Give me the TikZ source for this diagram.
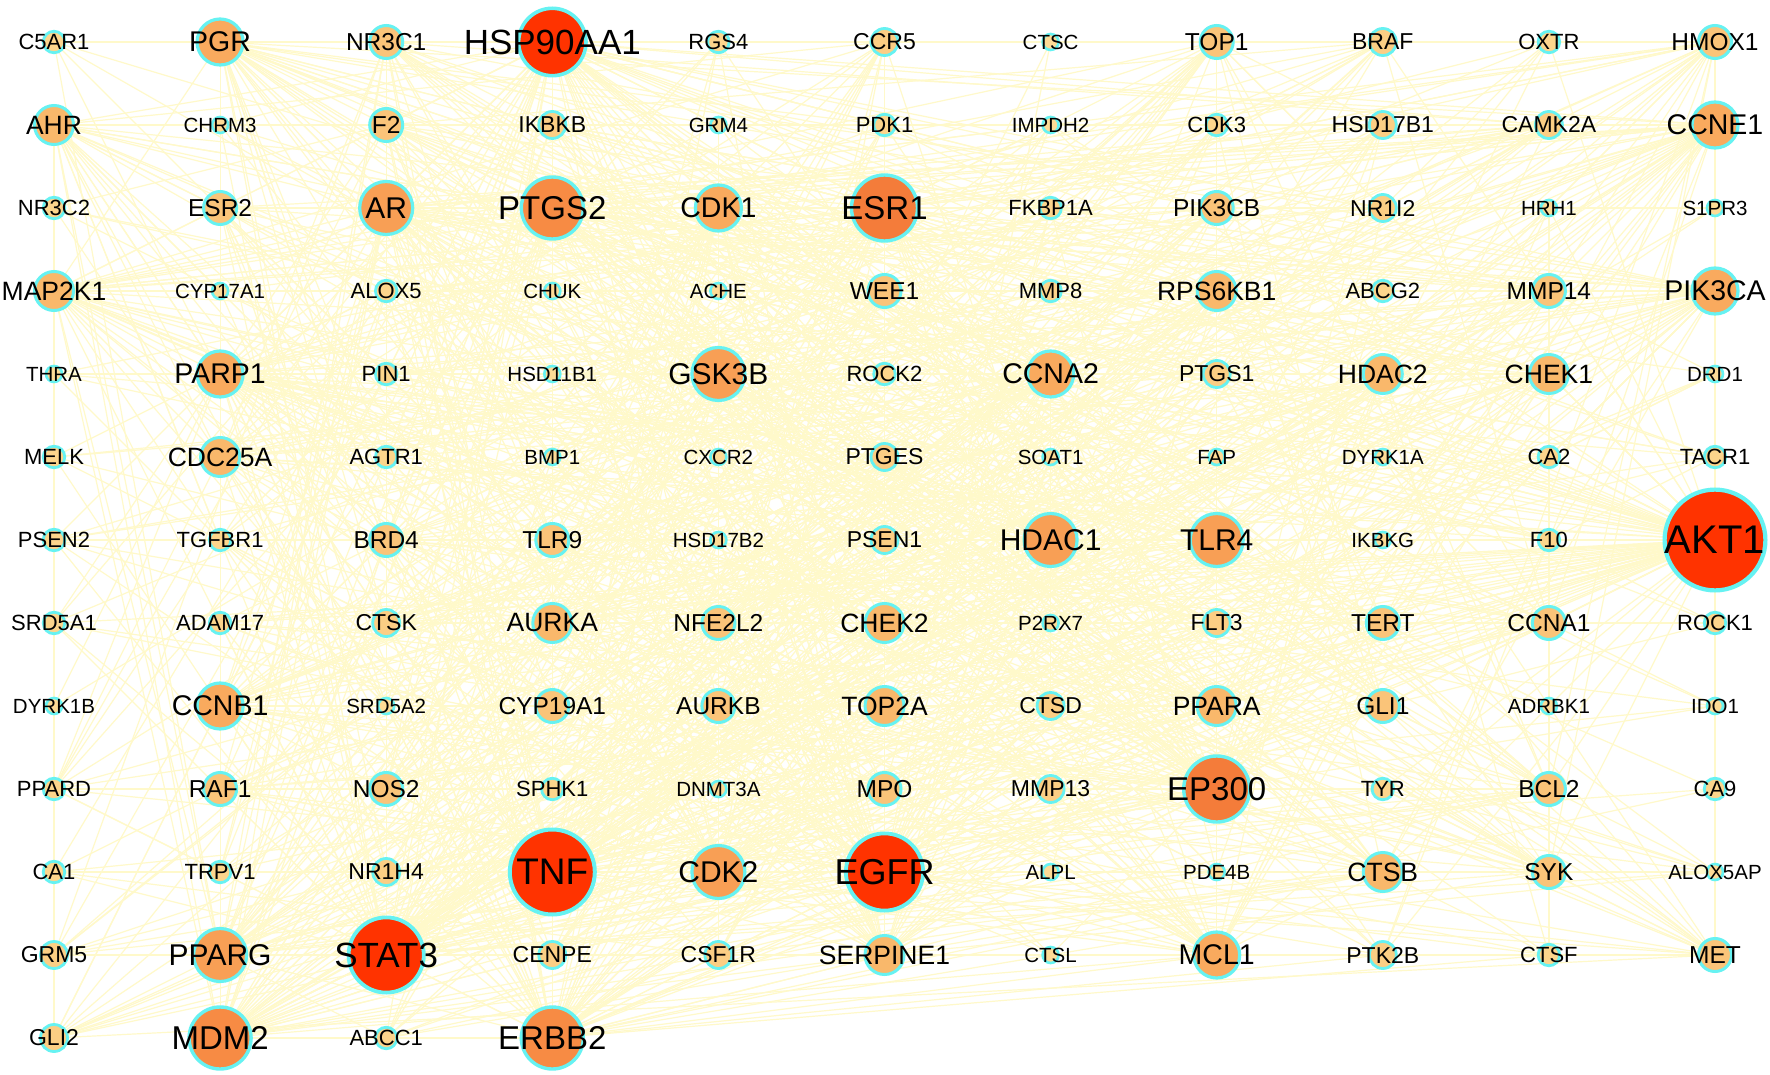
\documentclass[tikz,border=0pt]{standalone}
\usepackage{fontspec}
\setmainfont{Liberation Sans}
\pgfdeclarelayer{paper}
\pgfdeclarelayer{bg}
\pgfsetlayers{paper,bg,main}
\definecolor{ring}{HTML}{66F2F2}
\definecolor{edgec}{HTML}{FFF9CA}
\definecolor{f1}{HTML}{FDDB96}
\definecolor{f2}{HTML}{FCD58C}
\definecolor{f3}{HTML}{FBCE84}
\definecolor{f4}{HTML}{FAC479}
\definecolor{f5}{HTML}{F9B86B}
\definecolor{f6}{HTML}{F9AA5E}
\definecolor{f7}{HTML}{F89F55}
\definecolor{f8}{HTML}{F78B44}
\definecolor{f9}{HTML}{F47C3A}
\definecolor{fr}{HTML}{FF3300}
\newcount\gcnt
\expandafter\def\csname kdeg1\endcsname{3}
\expandafter\def\csname kdeg2\endcsname{6}
\expandafter\def\csname kdeg3\endcsname{10}
\expandafter\def\csname kdeg4\endcsname{16}
\expandafter\def\csname kdeg5\endcsname{22}
\expandafter\def\csname kdeg6\endcsname{30}
\expandafter\def\csname kdeg7\endcsname{38}
\expandafter\def\csname kdeg8\endcsname{52}
\expandafter\def\csname kdeg9\endcsname{58}
\expandafter\def\csname kdeg10\endcsname{75}
\expandafter\def\csname kdeg11\endcsname{80}
\expandafter\def\csname kdeg12\endcsname{85}
\expandafter\def\csname kdeg13\endcsname{90}
\expandafter\def\csname kdeg14\endcsname{110}
\tikzset{
 gnode/.style={circle, draw=ring, inner sep=0pt, outer sep=0pt},
 glab/.style={inner sep=0pt, outer sep=0pt, text=black},
 k1/.style={gnode, line width=2.6pt, minimum size=16pt, fill=f1},
 k2/.style={gnode, line width=2.8pt, minimum size=21.5pt, fill=f2},
 k3/.style={gnode, line width=2.8pt, minimum size=27pt, fill=f3},
 k4/.style={gnode, line width=3pt, minimum size=33pt, fill=f4},
 k5/.style={gnode, line width=3pt, minimum size=39pt, fill=f5},
 k6/.style={gnode, line width=3.2pt, minimum size=46pt, fill=f6},
 k7/.style={gnode, line width=3.2pt, minimum size=53pt, fill=f7},
 k8/.style={gnode, line width=3.4pt, minimum size=62pt, fill=f8},
 k9/.style={gnode, line width=3.4pt, minimum size=66pt, fill=f9},
 k10/.style={gnode, line width=3.6pt, minimum size=67.4pt, fill=fr},
 k11/.style={gnode, line width=3.8pt, minimum size=75.2pt, fill=fr},
 k12/.style={gnode, line width=3.8pt, minimum size=77.2pt, fill=fr},
 k13/.style={gnode, line width=4pt, minimum size=85pt, fill=fr},
 k14/.style={gnode, line width=4.2pt, minimum size=100.8pt, fill=fr},
 t1/.style={glab, font=\fontsize{20.5}{21}\selectfont},
 t2/.style={glab, font=\fontsize{22}{22}\selectfont},
 t3/.style={glab, font=\fontsize{23}{23}\selectfont},
 t4/.style={glab, font=\fontsize{24.5}{25}\selectfont},
 t5/.style={glab, font=\fontsize{26.5}{27}\selectfont},
 t6/.style={glab, font=\fontsize{28.5}{29}\selectfont},
 t7/.style={glab, font=\fontsize{30}{30}\selectfont},
 t8/.style={glab, font=\fontsize{33}{33}\selectfont},
 t9/.style={glab, font=\fontsize{33}{33}\selectfont},
 t10/.style={glab, font=\fontsize{35}{35}\selectfont},
 t11/.style={glab, font=\fontsize{35}{35}\selectfont},
 t12/.style={glab, font=\fontsize{36}{36}\selectfont},
 t13/.style={glab, font=\fontsize{37}{37}\selectfont},
 t14/.style={glab, font=\fontsize{40}{40}\selectfont},
 ppiedge/.style={draw=edgec, line width=1.2pt},
}
\begin{document}
\begin{tikzpicture}[x=1pt,y=-1pt]
\begin{pgfonlayer}{paper}
\path[use as bounding box, fill=white] (0,0) rectangle (1770,1075);
\end{pgfonlayer}
\foreach \row [count=\r] in {
 {C5AR1/2,PGR/6,NR3C1/4,HSP90AA1/10,RGS4/2,CCR5/3,CTSC/1,TOP1/4,BRAF/3,OXTR/2,HMOX1/4},
 {AHR/5,CHRM3/1,F2/4,IKBKB/3,GRM4/1,PDK1/2,IMPDH2/1,CDK3/2,HSD17B1/3,CAMK2A/3,CCNE1/6},
 {NR3C2/2,ESR2/4,AR/7,PTGS2/8,CDK1/6,ESR1/9,FKBP1A/2,PIK3CB/4,NR1I2/3,HRH1/1,S1PR3/1},
 {MAP2K1/5,CYP17A1/1,ALOX5/2,CHUK/1,ACHE/1,WEE1/4,MMP8/2,RPS6KB1/5,ABCG2/2,MMP14/4,PIK3CA/6},
 {THRA/1,PARP1/6,PIN1/2,HSD11B1/1,GSK3B/7,ROCK2/2,CCNA2/6,PTGS1/3,HDAC2/5,CHEK1/5,DRD1/1},
 {MELK/2,CDC25A/5,AGTR1/2,BMP1/1,CXCR2/1,PTGES/3,SOAT1/1,FAP/1,DYRK1A/1,CA2/2,TACR1/2},
 {PSEN2/2,TGFBR1/2,BRD4/4,TLR9/4,HSD17B2/1,PSEN1/3,HDAC1/7,TLR4/7,IKBKG/1,F10/2,AKT1/14},
 {SRD5A1/2,ADAM17/2,CTSK/3,AURKA/5,NFE2L2/4,CHEK2/5,P2RX7/1,FLT3/3,TERT/4,CCNA1/4,ROCK1/2},
 {DYRK1B/1,CCNB1/6,SRD5A2/1,CYP19A1/4,AURKB/4,TOP2A/5,CTSD/3,PPARA/5,GLI1/4,ADRBK1/1,IDO1/1},
 {PPARD/2,RAF1/4,NOS2/4,SPHK1/2,DNMT3A/1,MPO/4,MMP13/3,EP300/9,TYR/2,BCL2/4,CA9/2},
 {CA1/2,TRPV1/2,NR1H4/3,TNF/13,CDK2/7,EGFR/12,ALPL/1,PDE4B/1,CTSB/5,SYK/4,ALOX5AP/1},
 {GRM5/3,PPARG/7,STAT3/11,CENPE/3,CSF1R/3,SERPINE1/5,CTSL/1,MCL1/6,PTK2B/3,CTSF/2,MET/4},
 {GLI2/3,MDM2/8,ABCC1/2,ERBB2/8}}{
  \foreach \nm/\k [count=\c] in \row {
    \pgfmathsetmacro\px{54+(\c-1)*166.1}
    \pgfmathsetmacro\py{42+(\r-1)*83}
    \edef\mk{\noexpand\node[k\k] (\nm) at (\px,\py) {}; \noexpand\node[t\k] (\nm-t) at (\px,\py) {\nm};}
    \mk
    \global\advance\gcnt by 1
    \expandafter\xdef\csname gnm\the\gcnt\endcsname{\nm}
    \expandafter\xdef\csname gdg\the\gcnt\endcsname{\csname kdeg\k\endcsname}
  }
}
\pgfmathsetseed{2024}
\begin{pgfonlayer}{bg}
\foreach \i in {1,...,135}{
  \pgfmathtruncatemacro\js{\i+1}
  \foreach \j in {\js,...,136}{
    \pgfmathtruncatemacro\ok{rnd*1500 < \csname gdg\i\endcsname*\csname gdg\j\endcsname}
    \ifnum\ok=1
      \edef\mk{\noexpand\draw[ppiedge] (\csname gnm\i\endcsname) -- (\csname gnm\j\endcsname);}\mk
    \fi
  }
}
\end{pgfonlayer}
\end{tikzpicture}
\end{document}
